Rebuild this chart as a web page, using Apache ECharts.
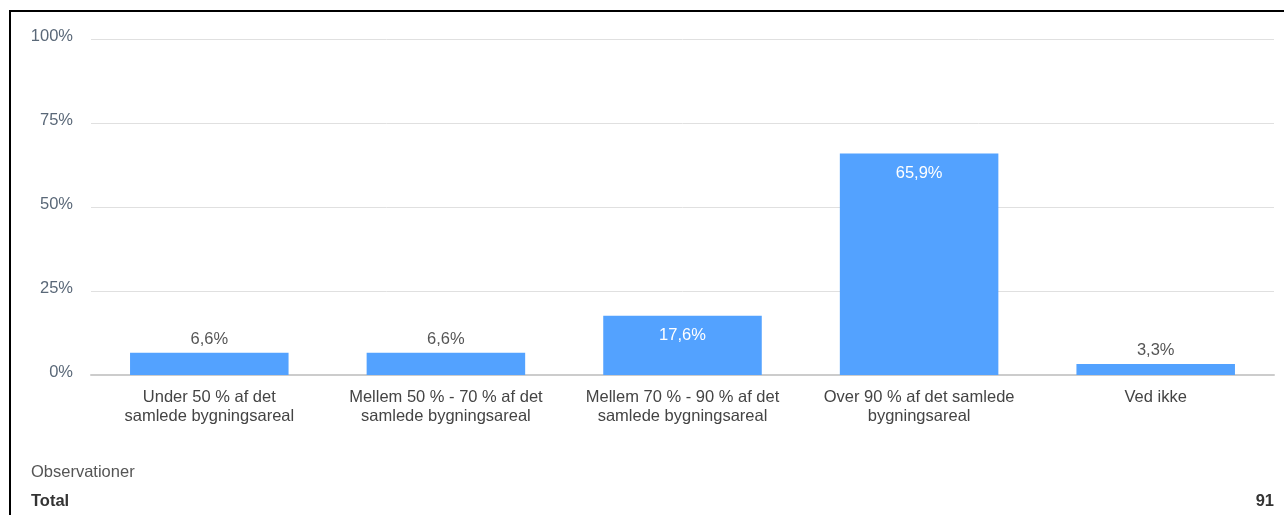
<!DOCTYPE html>
<html>
<head>
<meta charset="utf-8">
<script src="https://cdn.jsdelivr.net/npm/echarts@6/dist/echarts.min.js"></script>
<style>
html,body{margin:0;padding:0;background:#fff;}
#c{width:1284px;height:515px;}
</style>
</head>
<body>
<div id="c"></div>
<script>
const categories = [
  "Under 50 % af det\nsamlede bygningsareal",
  "Mellem 50 % - 70 % af det\nsamlede bygningsareal",
  "Mellem 70 % - 90 % af det\nsamlede bygningsareal",
  "Over 90 % af det samlede\nbygningsareal",
  "Ved ikke"
];
const values = [6.6, 6.6, 17.6, 65.9, 3.3];
const yTicks = [0, 25, 50, 75, 100];
const totalObs = 91;

const FONT = "'Liberation Sans', Arial, sans-serif";
const chart = echarts.init(document.getElementById('c'), null, {renderer: 'canvas'});

const fmt = v => v.toFixed(1).replace('.', ',') + '%';

chart.setOption({
  animation: false,
  grid: {left: 91, right: 10, top: 39, bottom: 140, containLabel: false},
  xAxis: {
    type: 'category',
    data: categories,
    axisLine: {show: true, lineStyle: {color: '#cccccc', width: 2}},
    axisTick: {show: false},
    axisLabel: {color: '#444', fontSize: 16.5, fontFamily: FONT, margin: 13, lineHeight: 19, interval: 0}
  },
  yAxis: {
    type: 'value',
    min: 0, max: 100, interval: 25,
    axisLine: {show: false},
    axisTick: {show: false},
    splitLine: {lineStyle: {color: '#e0e0e0', width: 1}},
    axisLabel: {color: '#5a6878', fontSize: 16.5, fontFamily: FONT, margin: 18,
      lineHeight: 6, verticalAlign: 'bottom',
      formatter: v => yTicks.includes(v) ? v + '%' : ''}
  },
  series: [{
    type: 'bar',
    barWidth: '67%',
    data: values.map(v => ({
      value: v,
      label: v > 10
        ? {show: true, position: 'insideTop', distance: 11, color: '#fff'}
        : {show: true, position: 'top', distance: 5, color: '#555'}
    })),
    itemStyle: {color: '#53a2ff'},
    label: {show: true, fontSize: 16.5, fontFamily: FONT, formatter: p => fmt(p.value)}
  }],
  graphic: [
    {type: 'rect', shape: {x: 9, y: 10, width: 1275, height: 2}, style: {fill: '#000'}},
    {type: 'rect', shape: {x: 9, y: 10, width: 2, height: 505}, style: {fill: '#000'}},
    {type: 'text', left: 31, top: 464, style: {text: 'Observationer', fill: '#555', fontSize: 16.5, fontFamily: FONT}},
    {type: 'text', left: 31, top: 493, style: {text: 'Total', fill: '#333', fontSize: 16.5, fontWeight: 'bold', fontFamily: FONT}},
    {type: 'text', right: 10, top: 493, style: {text: String(totalObs), fill: '#333', fontSize: 16.5, fontWeight: 'bold', fontFamily: FONT, align: 'right'}}
  ]
});
</script>
</body>
</html>
